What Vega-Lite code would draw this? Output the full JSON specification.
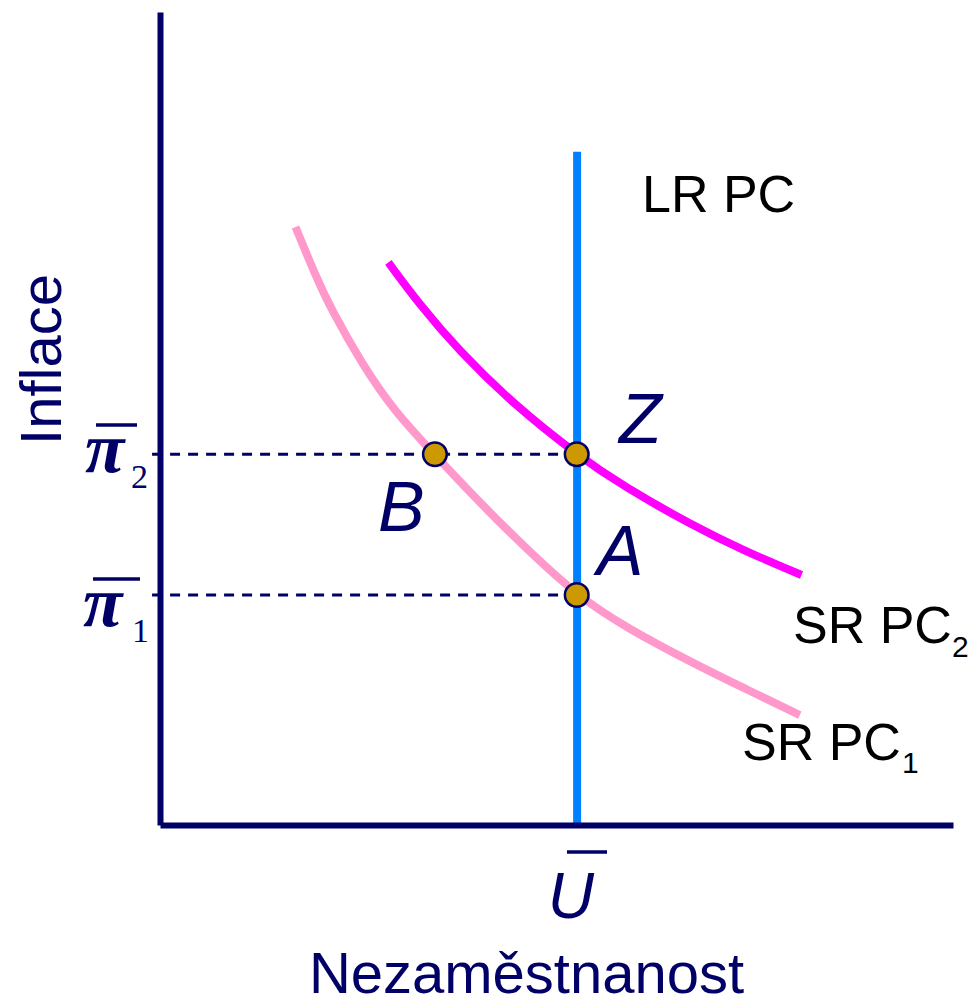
{
  "$schema": "https://vega.github.io/schema/vega-lite/v6.json",
  "width": 793,
  "height": 813,
  "autosize": {"type": "none"},
  "padding": {"left": 160, "top": 12, "right": 20, "bottom": 180},
  "background": "white",
  "config": {"view": {"stroke": null}, "font": "Liberation Sans"},
  "encoding": {
    "x": {
      "field": "x", "type": "quantitative",
      "scale": {"domain": [0, 100], "nice": false, "zero": false},
      "axis": {
        "title": "Nezaměstnanost", "domain": true, "domainColor": "#000066", "domainWidth": 6,
        "ticks": false, "labels": false, "grid": false, "zindex": 1,
        "titleFont": "Liberation Sans", "titleFontSize": 58, "titleFontWeight": "normal", "titleColor": "#000066",
        "titleX": 366, "titleY": 167, "titleAlign": "center", "titleBaseline": "alphabetic", "titleAngle": 0
      }
    },
    "y": {
      "field": "y", "type": "quantitative",
      "scale": {"domain": [0, 100], "nice": false, "zero": false},
      "axis": {
        "title": "Inflace", "domain": true, "domainColor": "#000066", "domainWidth": 6,
        "ticks": false, "labels": false, "grid": false, "zindex": 1,
        "titleFont": "Liberation Sans", "titleFontSize": 58, "titleFontWeight": "normal", "titleColor": "#000066",
        "titleX": -100, "titleY": 347, "titleAlign": "center", "titleBaseline": "alphabetic", "titleAngle": 270
      }
    }
  },
  "layer": [
    {
      "data": {"values": [
        {"x": -1, "x2": 52.55, "y": 45.6},
        {"x": -1, "x2": 52.55, "y": 28.29}
      ]},
      "mark": {"type": "rule", "color": "#000066", "strokeWidth": 2.8, "strokeDash": [10, 8]},
      "encoding": {"x2": {"field": "x2"}}
    },
    {
      "data": {"values": [
        {"series": "SR PC1", "x": 17.09, "y": 73.55},
        {"series": "SR PC1", "x": 19.47, "y": 67.9},
        {"series": "SR PC1", "x": 21.64, "y": 63.3},
        {"series": "SR PC1", "x": 25.55, "y": 56.6},
        {"series": "SR PC1", "x": 29.46, "y": 51.0},
        {"series": "SR PC1", "x": 34.67, "y": 45.5},
        {"series": "SR PC1", "x": 41.17, "y": 38.8},
        {"series": "SR PC1", "x": 47.25, "y": 33.0},
        {"series": "SR PC1", "x": 52.55, "y": 28.3},
        {"series": "SR PC1", "x": 58.54, "y": 24.4},
        {"series": "SR PC1", "x": 67.23, "y": 19.9},
        {"series": "SR PC1", "x": 73.73, "y": 16.8},
        {"series": "SR PC1", "x": 80.68, "y": 13.51},
        {"series": "SR PC2", "x": 28.8, "y": 69.19},
        {"series": "SR PC2", "x": 32.5, "y": 64.3},
        {"series": "SR PC2", "x": 37.71, "y": 58.3},
        {"series": "SR PC2", "x": 44.65, "y": 51.7},
        {"series": "SR PC2", "x": 52.55, "y": 45.55},
        {"series": "SR PC2", "x": 58.54, "y": 41.6},
        {"series": "SR PC2", "x": 67.23, "y": 36.8},
        {"series": "SR PC2", "x": 73.73, "y": 33.7},
        {"series": "SR PC2", "x": 80.9, "y": 30.75}
      ]},
      "mark": {"type": "line", "strokeWidth": 8, "interpolate": "basis", "strokeCap": "butt"},
      "encoding": {
        "color": {"field": "series", "type": "nominal", "scale": {"domain": ["SR PC1", "SR PC2"], "range": ["#FF99CC", "#FF00FF"]}, "legend": null}
      }
    },
    {
      "data": {"values": [{"x": 52.6, "y": 0, "y2": 82.8}]},
      "mark": {"type": "rule", "color": "#0080FF", "strokeWidth": 8},
      "encoding": {"y2": {"field": "y2"}}
    },
    {
      "data": {"values": [
        {"x": 52.55, "y": 45.6, "point": "Z"},
        {"x": 34.67, "y": 45.6, "point": "B"},
        {"x": 52.55, "y": 28.29, "point": "A"}
      ]},
      "mark": {"type": "point", "shape": "circle", "filled": true, "fill": "#CC9900", "stroke": "#000066", "strokeWidth": 2.5, "size": 560, "opacity": 1}
    },
    {
      "data": {"values": [
        {"x": 60.78, "y": 75.4, "label": "LR PC"},
        {"x": 79.82, "y": 22.39, "label": "SR PC"},
        {"x": 73.39, "y": 8.0, "label": "SR PC"}
      ]},
      "mark": {"type": "text", "align": "left", "baseline": "alphabetic", "font": "Liberation Sans", "fontSize": 52, "color": "#000000"},
      "encoding": {"text": {"field": "label"}}
    },
    {
      "data": {"values": [
        {"x": 99.87, "y": 20.66, "label": "2"},
        {"x": 93.57, "y": 6.4, "label": "1"}
      ]},
      "mark": {"type": "text", "align": "left", "baseline": "alphabetic", "font": "Liberation Sans", "fontSize": 30, "color": "#000000"},
      "encoding": {"text": {"field": "label"}}
    },
    {
      "data": {"values": [
        {"x": 57.88, "y": 46.99, "label": "Z"},
        {"x": 55.07, "y": 30.75, "label": "A"},
        {"x": 27.5, "y": 36.16, "label": "B"}
      ]},
      "mark": {"type": "text", "align": "left", "baseline": "alphabetic", "font": "Liberation Sans", "fontSize": 70, "fontStyle": "italic", "color": "#000066"},
      "encoding": {"text": {"field": "label"}}
    },
    {
      "data": {"values": [
        {"x": -9.46, "y": 43.42, "label": "π"},
        {"x": -9.71, "y": 24.48, "label": "π"}
      ]},
      "mark": {"type": "text", "align": "left", "baseline": "alphabetic", "font": "Liberation Serif", "fontSize": 72, "fontStyle": "italic", "fontWeight": "bold", "color": "#000066"},
      "encoding": {"text": {"field": "label"}}
    },
    {
      "data": {"values": [
        {"x": -3.66, "y": 41.45, "label": "2"},
        {"x": -3.53, "y": 22.51, "label": "1"}
      ]},
      "mark": {"type": "text", "align": "left", "baseline": "alphabetic", "font": "Liberation Serif", "fontSize": 34, "color": "#000066"},
      "encoding": {"text": {"field": "label"}}
    },
    {
      "data": {"values": [{"x": 48.9, "y": -11.44, "label": "U"}]},
      "mark": {"type": "text", "align": "left", "baseline": "alphabetic", "font": "Liberation Sans Narrow, Liberation Sans", "fontSize": 64, "fontStyle": "italic", "color": "#000066"},
      "encoding": {"text": {"field": "label"}}
    },
    {
      "data": {"values": [
        {"x": -8.07, "x2": -2.9, "y": 49.2},
        {"x": -8.45, "x2": -2.52, "y": 30.26},
        {"x": 51.32, "x2": 56.37, "y": -3.32}
      ]},
      "mark": {"type": "rule", "color": "#000066", "strokeWidth": 3.5},
      "encoding": {"x2": {"field": "x2"}}
    }
  ]
}
